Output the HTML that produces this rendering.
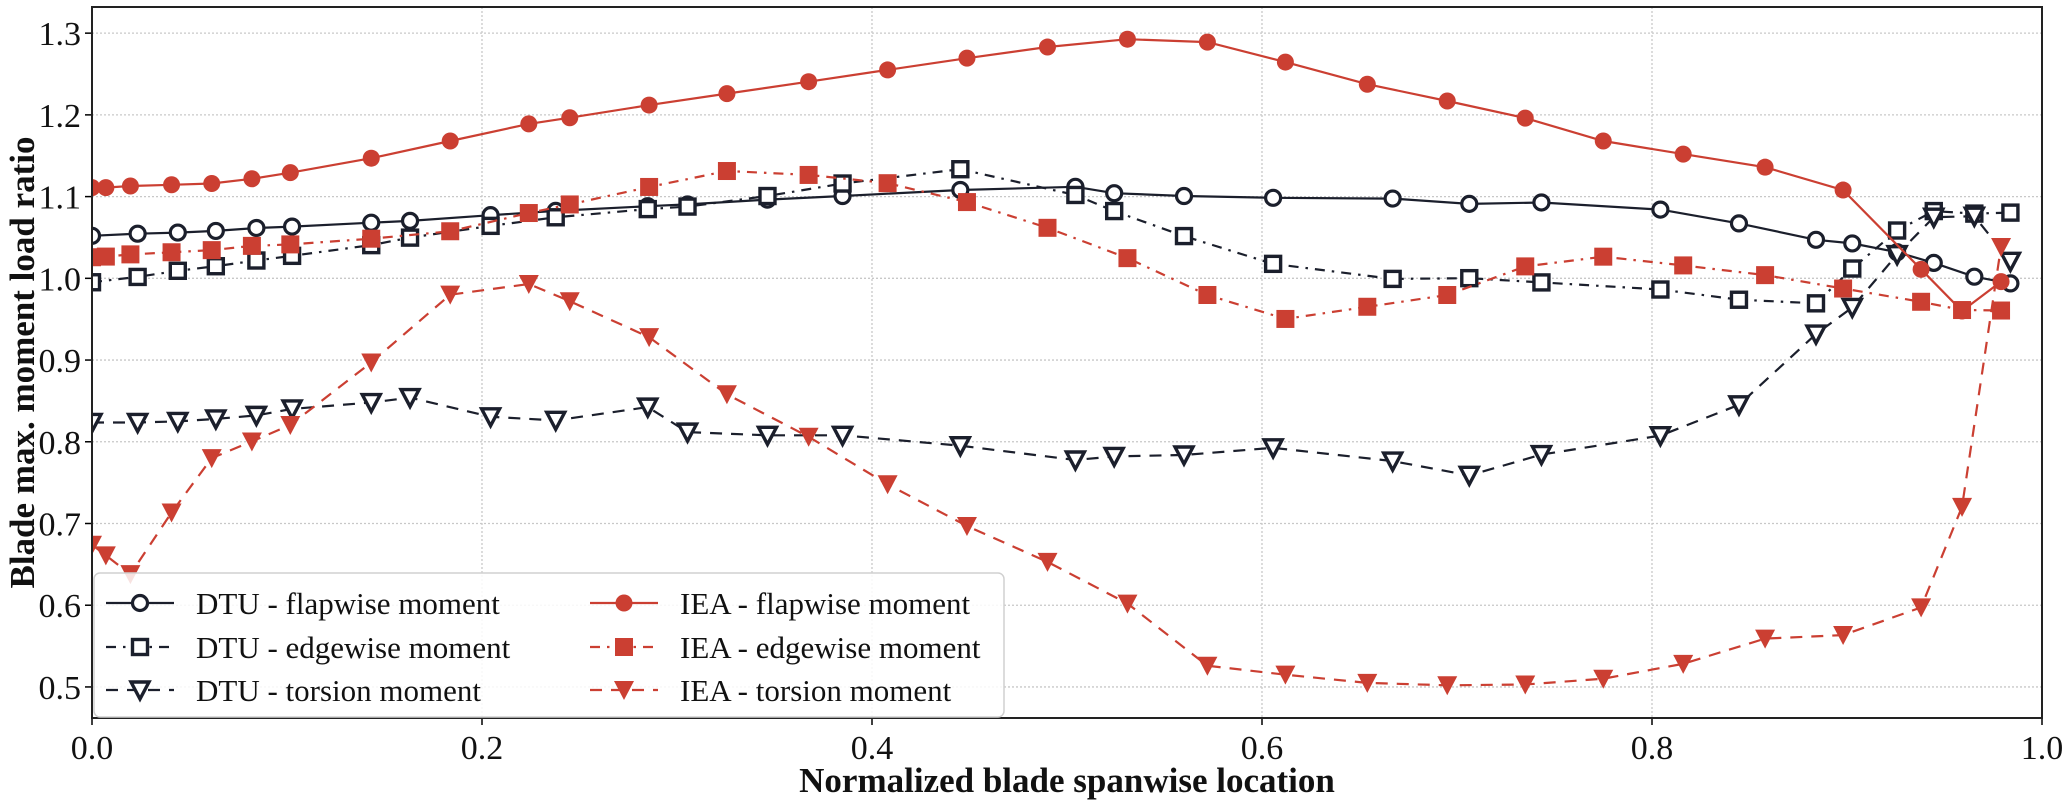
<!DOCTYPE html>
<html><head><meta charset="utf-8"><style>
html,body{margin:0;padding:0;background:#fff;}
svg{display:block;font-family:"Liberation Serif",serif;}
</style></head><body>
<svg id="chart" width="2067" height="803" viewBox="0 0 2067 803" xmlns="http://www.w3.org/2000/svg"></svg>
<script>
const dtuX=[0,0.0234,0.044,0.0635,0.0843,0.1026,0.1432,0.1631,0.2044,0.2378,0.285,0.3054,0.3464,0.3849,0.4453,0.5043,0.5242,0.560,0.6057,0.667,0.7063,0.7433,0.8043,0.8446,0.8841,0.9027,0.9257,0.9445,0.9653,0.9838];
const dtuFlap=[1.052,1.0546,1.056,1.058,1.0616,1.0633,1.0681,1.0703,1.0773,1.0825,1.0882,1.0904,1.0963,1.1007,1.1081,1.112,1.1042,1.1007,1.0985,1.0976,1.0911,1.0928,1.0841,1.0672,1.0471,1.0427,1.032,1.0189,1.002,0.9938];
const dtuEdge=[0.9952,1.0017,1.0092,1.0148,1.0218,1.0275,1.0406,1.0498,1.0642,1.0747,1.0847,1.0878,1.1007,1.116,1.1335,1.102,1.0823,1.0517,1.0177,0.9993,1.0002,0.995,0.9863,0.9738,0.9694,1.012,1.0585,1.0823,1.0792,1.0804];
const dtuTors=[0.8236,0.8236,0.8249,0.828,0.8323,0.8402,0.848,0.8541,0.8306,0.8262,0.8424,0.8118,0.8079,0.8079,0.7952,0.7777,0.7821,0.7838,0.7926,0.7764,0.7589,0.7843,0.8075,0.8452,0.9318,0.9644,1.029,1.0748,1.076,1.0208];
const ieaX=[0,0.0071,0.0197,0.0408,0.0614,0.082,0.1017,0.1432,0.1837,0.224,0.245,0.2857,0.3256,0.3675,0.408,0.4487,0.490,0.531,0.572,0.612,0.654,0.695,0.735,0.775,0.816,0.858,0.898,0.938,0.959,0.979];
const ieaFlap=[1.111,1.111,1.113,1.1145,1.116,1.1218,1.1293,1.147,1.168,1.189,1.1965,1.212,1.226,1.2406,1.255,1.2694,1.283,1.2926,1.289,1.2646,1.2375,1.217,1.196,1.168,1.152,1.136,1.108,1.011,0.960,0.996];
const ieaEdge=[1.0258,1.0266,1.0293,1.0319,1.0345,1.0397,1.0415,1.0485,1.0576,1.0799,1.0904,1.1118,1.1313,1.1265,1.1164,1.0933,1.0618,1.0247,0.9796,0.9503,0.9652,0.9796,1.0146,1.0265,1.0158,1.0039,0.9875,0.9713,0.9612,0.9606];
const ieaTors=[0.674,0.661,0.638,0.7135,0.780,0.8004,0.8205,0.897,0.98,0.993,0.972,0.928,0.8581,0.8061,0.748,0.6969,0.653,0.602,0.526,0.515,0.505,0.502,0.503,0.5101,0.5283,0.5591,0.5635,0.5973,0.7203,1.0384];
const xTicks=[0,0.2,0.4,0.6,0.8,1.0];
const xTickLabels=["0.0","0.2","0.4","0.6","0.8","1.0"];
const yTicks=[0.5,0.6,0.7,0.8,0.9,1.0,1.1,1.2,1.3];
const yTickLabels=["0.5","0.6","0.7","0.8","0.9","1.0","1.1","1.2","1.3"];

const NS="http://www.w3.org/2000/svg";
const svg=document.getElementById('chart');
const L=92,R=2042,T=7,B=718;
const xMin=0,xMax=1,yMin=0.462,yMax=1.332;
const sx=v=>L+(v-xMin)/(xMax-xMin)*(R-L);
const sy=v=>B-(v-yMin)/(yMax-yMin)*(B-T);
const BLK="#1b1f2c",RED="#cb3f32";
function mk(tag,attrs,parent){const e=document.createElementNS(NS,tag);for(const k in attrs)e.setAttribute(k,attrs[k]);(parent||svg).appendChild(e);return e;}

const grid=mk('g',{});


xTicks.forEach((t,i)=>{
  if(i>0&&i<xTicks.length-1){const g=mk('line',{x1:sx(t),x2:sx(t),y1:T,y2:B,stroke:'#c8c8c8','stroke-width':1.3,'stroke-dasharray':'2,2'},grid);
  }
  const tk=mk('line',{x1:sx(t),x2:sx(t),y1:B,y2:B+7,stroke:'#000','stroke-width':1.5});
  
  const tl=mk('text',{x:sx(t),y:B+41,'text-anchor':'middle','font-size':34,fill:'#111'});
  tl.textContent=xTickLabels[i];
  
});
yTicks.forEach((t,i)=>{
  const g=mk('line',{x1:L,x2:R,y1:sy(t),y2:sy(t),stroke:'#c8c8c8','stroke-width':1.3,'stroke-dasharray':'2,2'},grid);
  
  const tk=mk('line',{x1:L-7,x2:L,y1:sy(t),y2:sy(t),stroke:'#000','stroke-width':1.5});
  
  const tl=mk('text',{x:L-11,y:sy(t)+12,'text-anchor':'end','font-size':34,fill:'#111'});
  tl.textContent=yTickLabels[i];
  
});

function marker(type,x,y,color,parent){
  let e;
  if(type==='oc') e=mk('circle',{cx:x,cy:y,r:7.5,fill:'#fff',stroke:color,'stroke-width':3.2},parent);
  else if(type==='fc') e=mk('circle',{cx:x,cy:y,r:8.5,fill:color},parent);
  else if(type==='os') e=mk('rect',{x:x-7.5,y:y-7.5,width:15,height:15,fill:'#fff',stroke:color,'stroke-width':3.4},parent);
  else if(type==='fs') e=mk('rect',{x:x-9,y:y-9,width:18,height:18,fill:color},parent);
  else if(type==='ot') e=mk('path',{d:`M${x-9},${y-8}L${x+9},${y-8}L${x},${y+9}Z`,fill:'#fff',stroke:color,'stroke-width':3.4,'stroke-linejoin':'miter'},parent);
  else e=mk('path',{d:`M${x-10},${y-9}L${x+10},${y-9}L${x},${y+10}Z`,fill:color},parent);
  return e;
}
const DASH={solid:'',dashdot:'10,7,2.5,7',dashed:'12,9'};
const series=[
 {name:'dtu-flapwise',xs:dtuX,ys:dtuFlap,c:BLK,d:'solid',m:'oc',w:2.2},
 {name:'dtu-edgewise',xs:dtuX,ys:dtuEdge,c:BLK,d:'dashdot',m:'os',w:2.2},
 {name:'dtu-torsion',xs:dtuX,ys:dtuTors,c:BLK,d:'dashed',m:'ot',w:2.2},
 {name:'iea-flapwise',xs:ieaX,ys:ieaFlap,c:RED,d:'solid',m:'fc',w:2.2},
 {name:'iea-edgewise',xs:ieaX,ys:ieaEdge,c:RED,d:'dashdot',m:'fs',w:2.2},
 {name:'iea-torsion',xs:ieaX,ys:ieaTors,c:RED,d:'dashed',m:'ft',w:2.2}
];
const clip=mk('clipPath',{id:'pc'});mk('rect',{x:L,y:T,width:R-L,height:B-T},clip);
series.forEach(s=>{
  const g=mk('g',{'clip-path':'url(#pc)'});
  
  
  const pts=s.xs.map((x,i)=>sx(x).toFixed(1)+','+sy(s.ys[i]).toFixed(1)).join(' ');
  const ln=mk('polyline',{points:pts,fill:'none',stroke:s.c,'stroke-width':s.w,'stroke-dasharray':DASH[s.d]},g);
  
  
  s.xs.forEach((x,i)=>{
    const p=marker(s.m,sx(x),sy(s.ys[i]),s.c,g);
    
    
  });
});

const fr=mk('rect',{x:L,y:T,width:R-L,height:B-T,fill:'none',stroke:'#222','stroke-width':2});


const lg=mk('g',{});


mk('rect',{x:94,y:573,width:910,height:144,rx:6,fill:'#fff','fill-opacity':0.85,stroke:'#d0d0d0','stroke-width':1.5},lg);
const rowsY=[603,647,690];
series.forEach((s,i)=>{
  const col=i<3?0:1,row=i%3;
  const x0=col?590:106,y=rowsY[row];
  const e=mk('g',{},lg);
  
  
  mk('line',{x1:x0,x2:x0+68,y1:y,y2:y,stroke:s.c,'stroke-width':2.2,'stroke-dasharray':DASH[s.d]},e);
  marker(s.m,x0+34,y,s.c,e);
  const t=mk('text',{x:x0+90,y:y+11,'font-size':31,fill:'#111'},e);
  t.textContent=['DTU - flapwise moment','DTU - edgewise moment','DTU - torsion moment','IEA - flapwise moment','IEA - edgewise moment','IEA - torsion moment'][i];
});

const xt=mk('text',{x:(L+R)/2,y:792,'text-anchor':'middle','font-size':35,'font-weight':'bold',fill:'#111'});
xt.textContent='Normalized blade spanwise location';

const yt=mk('text',{x:0,y:0,'text-anchor':'middle','font-size':35,'font-weight':'bold',fill:'#111',transform:`translate(34,${(T+B)/2}) rotate(-90)`});
yt.textContent='Blade max. moment load ratio';

</script>
</body></html>
